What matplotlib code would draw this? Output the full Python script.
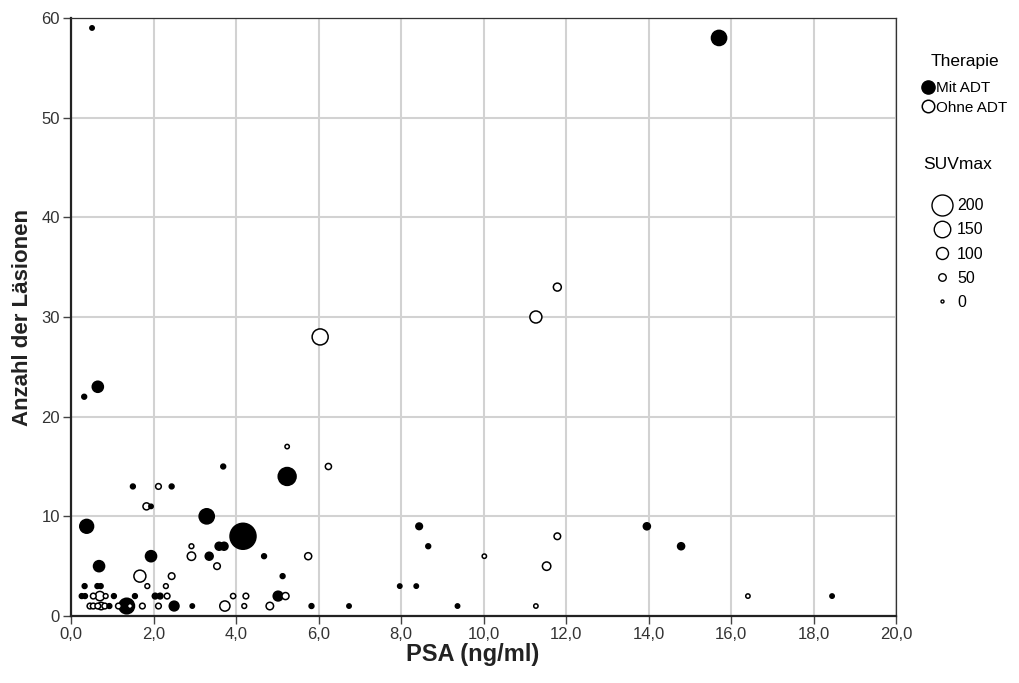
import numpy as np
import matplotlib.pyplot as plt
from matplotlib.lines import Line2D
from matplotlib.ticker import FuncFormatter

plt.rcParams['font.family'] = ['Liberation Sans Narrow', 'Liberation Sans', 'DejaVu Sans']

# Patienten mit ADT (gefuellte Kreise)
psa_mit = [0.51, 15.71, 0.65, 0.32, 3.69, 5.24, 1.50, 2.44, 1.94, 0.38, 3.29, 4.17,
           8.44, 8.66, 13.96, 14.79, 3.59, 3.71, 3.35, 1.94, 4.68, 0.68, 5.13, 7.97,
           8.37, 0.33, 0.64, 0.72, 0.26, 0.34, 1.04, 1.55, 2.04, 2.16, 5.02, 18.45,
           0.93, 1.35, 2.50, 2.94, 5.83, 6.74, 9.37]
lae_mit = [59, 58, 23, 22, 15, 14, 13, 13, 11, 9, 10, 8,
           9, 7, 9, 7, 7, 7, 6, 6, 6, 5, 4, 3,
           3, 3, 3, 3, 2, 2, 2, 2, 2, 2, 2, 2,
           1, 1, 1, 1, 1, 1, 1]
suv_mit = [15, 135, 90, 20, 20, 165, 20, 20, 15, 120, 135, 255,
           40, 20, 45, 45, 55, 55, 55, 90, 20, 90, 20, 15,
           15, 20, 20, 20, 20, 20, 20, 20, 30, 30, 75, 15,
           20, 140, 75, 15, 20, 15, 15]

# Patienten ohne ADT (offene Kreise)
psa_ohne = [11.79, 11.27, 6.04, 5.24, 6.24, 2.12, 1.83, 11.79, 10.02, 11.53, 2.92, 2.92,
            3.54, 5.75, 1.67, 2.44, 1.85, 2.30, 0.54, 0.70, 0.84, 2.33, 3.93, 4.24,
            5.20, 16.41, 0.46, 0.54, 0.65, 0.73, 0.82, 1.15, 1.43, 1.73, 2.12, 3.73,
            4.20, 4.82, 11.27]
lae_ohne = [33, 30, 28, 17, 15, 13, 11, 8, 6, 5, 7, 6,
            5, 6, 4, 4, 3, 3, 2, 2, 2, 2, 2, 2,
            2, 2, 1, 1, 1, 1, 1, 1, 1, 1, 1, 1,
            1, 1, 1]
suv_ohne = [55, 100, 145, 15, 35, 30, 45, 40, 15, 60, 20, 60,
            40, 45, 100, 40, 20, 20, 30, 70, 20, 30, 25, 30,
            45, 15, 30, 30, 30, 50, 30, 30, 20, 30, 30, 80,
            20, 50, 15]

suv_legende = [200, 150, 100, 50, 0]


def groesse(suv):
    # Durchmesser in Pixel linear mit SUVmax, umgerechnet in pt^2
    d_pt = 0.72 * (3 + 0.09 * np.asarray(suv, dtype=float))
    return d_pt ** 2


x = np.array(psa_mit + psa_ohne)
y = np.array(lae_mit + lae_ohne)
suv = np.array(suv_mit + suv_ohne)
gefuellt = np.array([True] * len(psa_mit) + [False] * len(psa_ohne))

reihenfolge = np.argsort(-suv, kind='stable')
x, y, suv, gefuellt = x[reihenfolge], y[reihenfolge], suv[reihenfolge], gefuellt[reihenfolge]
farben = ['black' if g else 'white' for g in gefuellt]

fig = plt.figure(figsize=(10.19, 6.83), dpi=100)
ax = fig.add_axes([71 / 1019, 1 - 616 / 683, (896 - 71) / 1019, (616 - 18) / 683])

ax.scatter(x, y, s=groesse(suv), c=farben, edgecolors='black', linewidths=1.1, zorder=3)

ax.set_xlim(0, 20)
ax.set_ylim(0, 60)
ax.set_xticks(np.arange(0, 21, 2))
ax.set_yticks(np.arange(0, 61, 10))
ax.xaxis.set_major_formatter(FuncFormatter(lambda v, p: f'{v:.1f}'.replace('.', ',')))
ax.grid(True, color='#d2d2d2', linewidth=1.5)
ax.set_axisbelow(True)

for s in ['left', 'bottom']:
    ax.spines[s].set_linewidth(1.6)
    ax.spines[s].set_color('#222222')
for s in ['top', 'right']:
    ax.spines[s].set_linewidth(0.9)
    ax.spines[s].set_color('#333333')

ax.tick_params(direction='out', length=6, width=1, color='#444444',
               labelsize=12, labelcolor='#333333', pad=2)

ax.set_xlabel('PSA (ng/ml)', fontsize=17, fontweight='bold', color='#222222', labelpad=3)
ax.xaxis.set_label_coords((473 - 71) / 825, -0.045, transform=ax.transAxes)
ax.xaxis.label.set_verticalalignment('top')
ax.set_ylabel('Anzahl der Läsionen', fontsize=16, fontweight='bold', color='#222222',
              labelpad=6, family=['Liberation Sans', 'DejaVu Sans'])

# Legende Therapie
h_ther = [Line2D([], [], marker='o', linestyle='none', markersize=9.5,
                 markerfacecolor='black', markeredgecolor='black'),
          Line2D([], [], marker='o', linestyle='none', markersize=9,
                 markerfacecolor='white', markeredgecolor='black', markeredgewidth=1.1)]
leg1 = fig.legend(h_ther, ['Mit ADT', 'Ohne ADT'], title='Therapie',
                  loc='upper left', bbox_to_anchor=(922 / 1019, 1 - 54 / 683),
                  frameon=False, fontsize=11, title_fontsize=12.5,
                  handlelength=0.8, handletextpad=0.1, labelspacing=0.33,
                  borderpad=0, borderaxespad=0)
leg1._legend_box.sep = 9

# Legende SUVmax
h_suv = [Line2D([], [], marker='o', linestyle='none',
                markersize=np.sqrt(groesse(v)), markerfacecolor='white',
                markeredgecolor='black', markeredgewidth=1.0) for v in suv_legende]
leg2 = fig.legend(h_suv, [str(v) for v in suv_legende], title='SUVmax',
                  loc='upper left', bbox_to_anchor=(923 / 1019, 1 - 157 / 683),
                  frameon=False, fontsize=11.5, title_fontsize=12.5,
                  handlelength=1.3, handletextpad=0.3, labelspacing=0.57,
                  borderpad=0, borderaxespad=0)
leg2._legend_box.sep = 19

fig.savefig('out.png', dpi=100)
